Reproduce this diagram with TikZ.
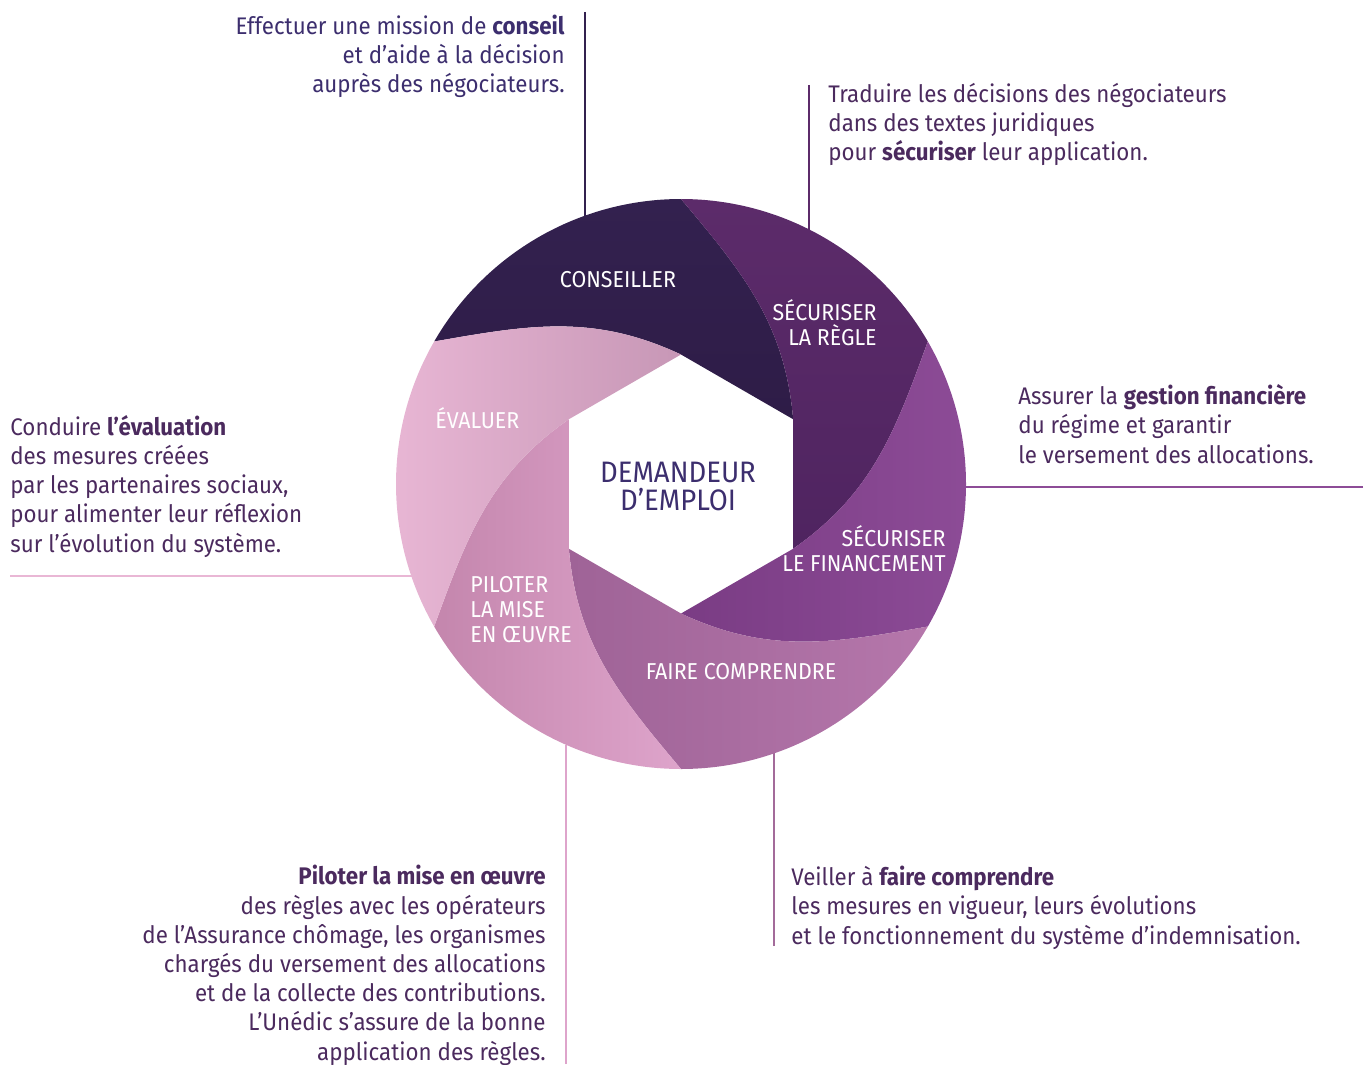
\documentclass[tikz,border=0pt]{standalone}
\usepackage{fontspec}
\setmainfont{Fira Sans}[FakeStretch=0.93]
\usepackage{tikz}

\definecolor{indigo}{HTML}{3C2E6E}
\definecolor{plum}{HTML}{4B2A5E}
\definecolor{conseilA}{HTML}{33214F}
\definecolor{conseilB}{HTML}{2E1C47}
\definecolor{regleA}{HTML}{5C2B6A}
\definecolor{regleB}{HTML}{4F2460}
\definecolor{finA}{HTML}{7A3C84}
\definecolor{finB}{HTML}{8D4C97}
\definecolor{compA}{HTML}{9F6397}
\definecolor{compB}{HTML}{B577AB}
\definecolor{pilA}{HTML}{C486AD}
\definecolor{pilB}{HTML}{DEA4CB}
\definecolor{evalA}{HTML}{E9B7D5}
\definecolor{evalB}{HTML}{C797B6}

\newcommand{\wheelR}{285}
\newcommand{\hexR}{129.5}

\begin{document}
\begin{tikzpicture}[x=0.5pt, y=-0.5pt,
		desc/.style={font=\fontsize{12}{14.6}\selectfont, text=plum, inner sep=0pt},
		lbl/.style={font=\fontsize{11.5}{12.4}\selectfont, text=white, inner sep=0pt},
		lead/.style={line width=0.75pt}]

	\useasboundingbox (0,0) rectangle (1368,1064);

	% leader lines, drawn first so the wheel covers their ends
	\coordinate (conseil-end) at (585,12);
	\coordinate (conseil-rim) at (585,216);
	\coordinate (regle-end) at (809,85);
	\coordinate (regle-rim) at (809,230);
	\coordinate (fin-end) at (1363,487);
	\coordinate (fin-rim) at (966,487);
	\coordinate (comp-end) at (774,946);
	\coordinate (comp-rim) at (774,753);
	\coordinate (pil-end) at (566,1064);
	\coordinate (pil-rim) at (566,745);
	\coordinate (eval-end) at (10,576);
	\coordinate (eval-rim) at (412,576);

	\draw[lead, conseilA] (conseil-end) -- (conseil-rim);
	\draw[lead, regleA] (regle-end) -- (regle-rim);
	\draw[lead, finB] (fin-end) -- (fin-rim);
	\draw[lead, compB!90!black] (comp-end) -- (comp-rim);
	\draw[lead, pilB] (pil-end) -- (pil-rim);
	\draw[lead, evalA] (eval-end) -- (eval-rim);

	% the six blades round the hexagon
	\begin{scope}[shift={(681,484)}, x=0.5pt, y=0.5pt]
		\foreach \a/\ca/\cb/\sa in {90/conseilA/conseilB/0, 30/regleA/regleB/0,
			-30/finA/finB/90, -90/compA/compB/90, -150/pilA/pilB/90, 150/evalA/evalB/90}
		{
			\shade[top color=\ca, bottom color=\cb, shading angle=\sa]
				(\a:\hexR) -- (\a-60:\hexR) to[out=\a+5, in=\a-140] (\a:\wheelR)
				arc[start angle=\a, end angle=\a+60, radius=\wheelR]
				to[out=\a-80, in=\a+65] (\a:\hexR) -- cycle;
		}
	\end{scope}

	% blade names (base anchor sits on the last line)
	\node[lbl, anchor=base] (conseiller) at (618,287) {CONSEILLER};
	\node[lbl, anchor=base east, align=right] (securiser) at (877,345) {SÉCURISER\\LA RÈGLE};
	\node[lbl, anchor=base east, align=right] (financer) at (946,571) {SÉCURISER\\LE FINANCEMENT};
	\node[lbl, anchor=base] (comprendre) at (741,679) {FAIRE COMPRENDRE};
	\node[lbl, anchor=base west, align=left] (piloter) at (470,642) {PILOTER\\LA MISE\\EN ŒUVRE};
	\node[lbl, anchor=base west] (evaluer) at (435,428) {ÉVALUER};
	\node[font=\fontsize{14.8}{14}\selectfont, text=indigo, inner sep=0pt, anchor=base, align=center] (demandeur) at (678,510) {DEMANDEUR\\D’EMPLOI};

	% descriptions
	\node[desc, text=indigo, anchor=base east, align=right] (t-conseil) at (565,93)
		{Effectuer une mission de \textbf{conseil}\\et d’aide à la décision\\auprès des négociateurs.};
	\node[desc, anchor=base west, align=left] (t-regle) at (828,161)
		{Traduire les décisions des négociateurs\\dans des textes juridiques\\pour \textbf{sécuriser} leur application.};
	\node[desc, anchor=base west, align=left] (t-fin) at (1018,463)
		{Assurer la \textbf{gestion financière}\\du régime et garantir\\le versement des allocations.};
	\node[desc, anchor=base west, align=left] (t-comp) at (791,944)
		{Veiller à \textbf{faire comprendre}\\les mesures en vigueur, leurs évolutions\\et le fonctionnement du système d’indemnisation.};
	\node[desc, anchor=base east, align=right] (t-pil) at (546,1060)
		{\textbf{Piloter la mise en œuvre}\\des règles avec les opérateurs\\de l’Assurance chômage, les organismes\\chargés du versement des allocations\\et de la collecte des contributions.\\L’Unédic s’assure de la bonne\\application des règles.};
	\node[desc, anchor=base west, align=left] (t-eval) at (10,552)
		{Conduire \textbf{l’évaluation}\\des mesures créées\\par les partenaires sociaux,\\pour alimenter leur réflexion\\sur l’évolution du système.};
\end{tikzpicture}
\end{document}
